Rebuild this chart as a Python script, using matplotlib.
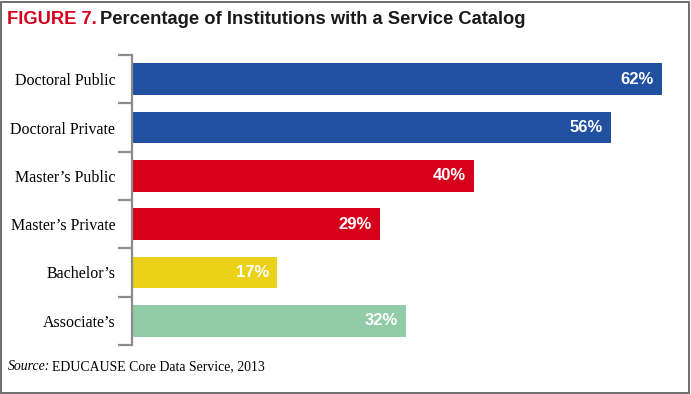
"""
Figure 7: percentage of institutions with a service catalog (horizontal bars).
Saves out.png (691x394 px).
"""
import numpy as np
import matplotlib.pyplot as plt
from matplotlib.patches import Rectangle

# --- data ---
categories = ["Doctoral Public", "Doctoral Private", "Master\u2019s Public",
              "Master\u2019s Private", "Bachelor\u2019s", "Associate\u2019s"]
values = [62, 56, 40, 29, 17, 32]
bar_colors = ["#2150a0", "#2150a0", "#d7001c", "#d7001c", "#ebd118", "#91cba7"]

TITLE_RED = "FIGURE 7."
TITLE_TEXT = "Percentage of Institutions with a Service Catalog"
SOURCE_LABEL = "Source:"
SOURCE_TEXT = "EDUCAUSE Core Data Service, 2013"

W, H = 691, 394
NARROW = ["Liberation Sans Narrow", "Liberation Sans", "DejaVu Sans"]
SERIF = ["Liberation Serif", "DejaVu Serif"]

fig = plt.figure(figsize=(W / 100, H / 100), dpi=100)

# axes placed in pixel units: x 132..680, y 55..345 (from top)
px_per_pct = 8.55
ax_l, ax_r, ax_t, ax_b = 132, 680, 55, 345
ax = fig.add_axes([ax_l / W, 1 - ax_b / H, (ax_r - ax_l) / W, (ax_b - ax_t) / H])

y = np.arange(len(categories))
ax.barh(y, values, height=0.66, color=bar_colors, left=0)
ax.set_xlim(0, (ax_r - ax_l) / px_per_pct)
ax.set_ylim(len(categories) - 0.5, -0.5)

for yi, v in zip(y, values):
    ax.text(v - 8 / px_per_pct, yi, f"{v}%", ha="right", va="center",
            color="white", fontsize=12, fontweight="bold", family=NARROW)

for s in ["top", "right", "bottom"]:
    ax.spines[s].set_visible(False)
ax.spines["left"].set_color("#8c8c8c")
ax.spines["left"].set_linewidth(1.6)
ax.set_xticks([])
ax.set_yticks(y)
ax.set_yticklabels(categories, family=SERIF, fontsize=11.5)
ax.tick_params(axis="y", which="major", length=0, pad=12)
ax.set_yticks(np.arange(len(categories) + 1) - 0.5, minor=True)
ax.tick_params(axis="y", which="minor", length=10, width=1.6, color="#8c8c8c")
ax.patch.set_visible(False)

# title
t1 = fig.text(7 / W, 1 - 19 / H, TITLE_RED, color="#d7001c", fontsize=13.2,
              fontweight="bold", family=NARROW, va="center", ha="left")
fig.canvas.draw()
bb = t1.get_window_extent()
fig.text((bb.x1 + 3) / W, 1 - 19 / H, TITLE_TEXT, color="#1a1a1a", fontsize=13.2,
         fontweight="bold", family=NARROW, va="center", ha="left")

# source line
s1 = fig.text(8 / W, 1 - 367 / H, SOURCE_LABEL, style="italic", fontsize=9.9,
              family=SERIF, va="center", ha="left")
fig.canvas.draw()
bb = s1.get_window_extent()
fig.text((bb.x1 + 2) / W, 1 - 367 / H, SOURCE_TEXT, fontsize=9.9,
         family=SERIF, va="center", ha="left")

# outer frame
fig.add_artist(Rectangle((1 / W, 1.5 / H), (W - 3) / W, (H - 3) / H,
                         transform=fig.transFigure, fill=False,
                         edgecolor="#6e6e6e", linewidth=1.4))

fig.savefig("out.png", dpi=100)
